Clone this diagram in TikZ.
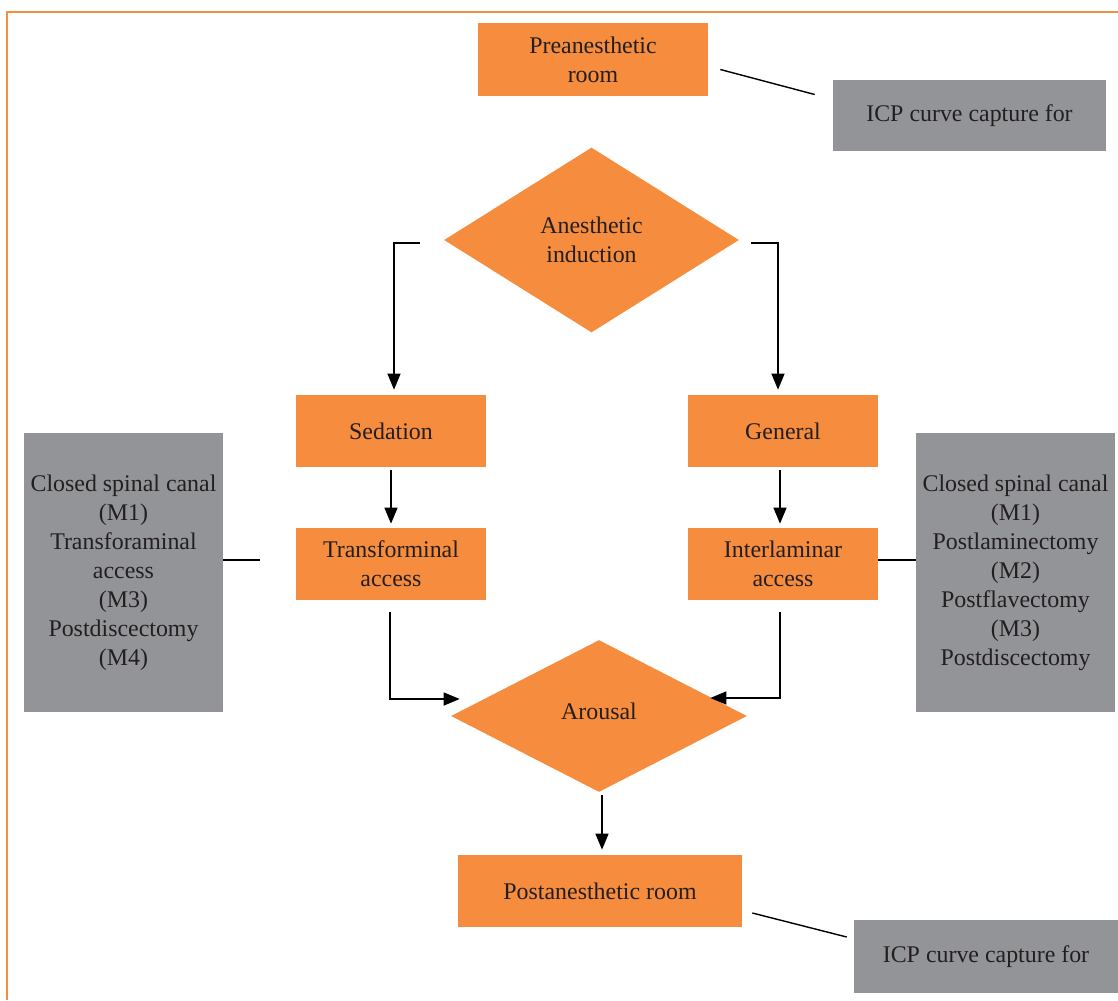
\documentclass[tikz,border=0pt]{standalone}
\usepackage{fontspec}
\setmainfont{Liberation Serif}
\usetikzlibrary{shapes.geometric,arrows.meta,calc}

\definecolor{boxorange}{RGB}{245,140,62}
\definecolor{boxgray}{RGB}{147,148,152}
\definecolor{textdark}{RGB}{35,31,32}

\tikzset{
  orangebox/.style={fill=boxorange, text=textdark, align=center, inner sep=0pt},
  graybox/.style={fill=boxgray, text=textdark, align=center, inner sep=0pt},
  decision/.style={diamond, fill=boxorange, text=textdark, align=center, inner sep=0pt},
  arr/.style={-{Triangle[length=0.32cm,width=0.26cm]}, line width=0.8pt},
  link/.style={line width=0.8pt}
}

\begin{document}
\begin{tikzpicture}[x=0.02cm, y=-0.02cm, font=\fontsize{13.6}{16.5}\selectfont]
  \useasboundingbox (0,0) rectangle (1118,1000);

  % Frame
  \draw[boxorange, line width=0.6pt] (1118,12) -- (7,12) -- (7,1000);

  % Boxes
  \node[orangebox, minimum width=4.6cm, minimum height=1.46cm] (pre) at (593,59.5) {Preanesthetic\\room};
  \node[graybox, minimum width=5.46cm, minimum height=1.42cm] (icpTop) at (969.5,115.5) {ICP curve capture for};
  \node[decision, minimum width=5.9cm, minimum height=3.7cm] (induct) at (591.5,240) {Anesthetic\\induction};
  \node[orangebox, minimum width=3.8cm, minimum height=1.44cm] (sed) at (391,431) {Sedation};
  \node[orangebox, minimum width=3.8cm, minimum height=1.44cm] (gen) at (783,431) {General};
  \node[orangebox, minimum width=3.8cm, minimum height=1.44cm] (transf) at (391,564) {Transforminal\\access};
  \node[orangebox, minimum width=3.8cm, minimum height=1.44cm] (interl) at (783,564) {Interlaminar\\access};
  \node[graybox, minimum width=3.98cm, minimum height=5.58cm] (leftInfo) at (123.5,572.5)
    {Closed spinal canal\\(M1)\\Transforaminal\\access\\(M3)\\Postdiscectomy\\(M4)};
  \node[graybox, minimum width=3.98cm, minimum height=5.58cm] (rightInfo) at (1015.5,572.5)
    {Closed spinal canal\\(M1)\\Postlaminectomy\\(M2)\\Postflavectomy\\(M3)\\Postdiscectomy};
  \node[decision, minimum width=5.92cm, minimum height=3.04cm] (arousal) at (599,716) {\raisebox{0.2cm}{Arousal}};
  \node[orangebox, minimum width=5.68cm, minimum height=1.44cm] (post) at (600,891) {Postanesthetic room};
  \node[graybox, minimum width=5.28cm, minimum height=1.46cm] (icpBot) at (986,956.5) {ICP curve capture for};

  % Connectors
  \draw[link] ($(pre.east)+(12,10)$) -- ($(icpTop.west)+(-18,-21)$);
  \draw[arr] ($(induct.west)+(-24,3)$) -| ($(sed.north)+(3,-5)$);
  \draw[arr] ($(induct.east)+(12,3)$) -| ($(gen.north)+(-5,-5)$);
  \draw[arr] ($(sed.south)+(0,3)$) -- ($(transf.north)+(0,-4)$);
  \draw[arr] ($(gen.south)+(-3,3)$) -- ($(interl.north)+(-3,-4)$);
  \draw[link] ($(leftInfo.east)+(0,-12.5)$) -- ($(transf.west)+(-36,-4)$);
  \draw[link] ($(interl.east)+(0,-4)$) -- ($(rightInfo.west)+(0,-12.5)$);
  \draw[arr] ($(transf.south)+(-1,12)$) |- ($(arousal.west)+(9,-17)$);
  \draw[arr] ($(interl.south)+(-3,12)$) |- ($(arousal.east)+(-37,-18)$);
  \draw[arr] ($(arousal.south)+(3,3)$) -- ($(post.north)+(2,-5)$);
  \draw[link] ($(post.east)+(10,22)$) -- ($(icpBot.west)+(-7,-19.5)$);

\end{tikzpicture}
\end{document}
